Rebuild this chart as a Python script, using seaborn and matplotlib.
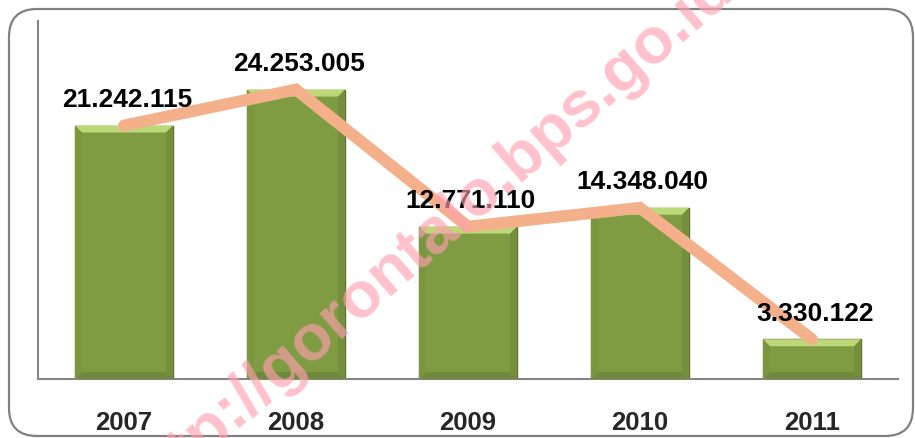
import matplotlib
matplotlib.use("Agg")
import matplotlib.pyplot as plt
import seaborn as sns
import numpy as np
from matplotlib.patches import FancyBboxPatch, Polygon
from matplotlib.transforms import IdentityTransform

years = ["2007", "2008", "2009", "2010", "2011"]
values = [21242115, 24253005, 12771110, 14348040, 3330122]
value_labels = ["21.242.115", "24.253.005", "12.771.110", "14.348.040", "3.330.122"]
watermark = "http://gorontalo.bps.go.id"

sns.set_theme(style="white")
plt.rcParams["font.family"] = ["Liberation Sans", "DejaVu Sans"]

W, H = 915, 439
fig = plt.figure(figsize=(W / 100, H / 100), dpi=100)
ax = fig.add_axes([38 / W, 1 - 380 / H, (898 - 38) / W, (380 - 22) / H])

bar_color = "#7f9c42"
sns.barplot(x=years, y=values, color=bar_color, saturation=1, width=0.57,
            edgecolor="#5c7330", linewidth=1.0, ax=ax, zorder=2)

# bevel highlights derived from the bar patches
ymax = 30e6
ax.set_ylim(0, ymax)
ax.set_xlim(-0.5, 4.5)
dx = 0.04
dy = ymax * 7 / 358
for p in ax.patches:
    x0, w, h = p.get_x(), p.get_width(), p.get_height()
    x1 = x0 + w
    top = Polygon([(x0, h), (x1, h), (x1 - dx, h - dy), (x0 + dx, h - dy)],
                  closed=True, facecolor="#bcd878", edgecolor="none", zorder=3)
    bot = Polygon([(x0, 0), (x1, 0), (x1 - dx, dy), (x0 + dx, dy)],
                  closed=True, facecolor="#70893a", edgecolor="none", zorder=3)
    lft = Polygon([(x0, 0), (x0 + dx, dy), (x0 + dx, h - dy), (x0, h)],
                  closed=True, facecolor="#7a9740", edgecolor="none", zorder=3)
    rgt = Polygon([(x1, 0), (x1 - dx, dy), (x1 - dx, h - dy), (x1, h)],
                  closed=True, facecolor="#74903c", edgecolor="none", zorder=3)
    for poly in (top, bot, lft, rgt):
        ax.add_patch(poly)

# watermark (over bars, under line and labels)
fig.text(428 / W, 1 - 238 / H, watermark, rotation=41, fontsize=47,
         fontweight="bold", color="#ff9fb0", alpha=0.65,
         ha="center", va="center", rotation_mode="anchor", zorder=4)

sns.lineplot(x=np.arange(len(values)), y=values, color="#f4b08a", linewidth=8.5,
             solid_capstyle="round", solid_joinstyle="miter", ax=ax, zorder=5)

for i, (v, lab) in enumerate(zip(values, value_labels)):
    ax.annotate(lab, xy=(i, v), xytext=(2, 14), textcoords="offset points",
                ha="center", va="baseline", fontsize=19, fontweight="bold",
                color="black", zorder=6)

for side in ("top", "right"):
    ax.spines[side].set_visible(False)
for side in ("left", "bottom"):
    ax.spines[side].set_color("#868686")
    ax.spines[side].set_linewidth(1.5)
ax.set_yticks([])
ax.set_xlabel("")
ax.set_ylabel("")
ax.tick_params(axis="x", length=0, pad=22, labelsize=18.5)
for t in ax.get_xticklabels():
    t.set_fontweight("bold")
ax.set_facecolor("white")
ax.patch.set_alpha(0)
ax.set_zorder(1)

border = FancyBboxPatch((9, 2), 904, 427, boxstyle="round,pad=0,rounding_size=28",
                        transform=IdentityTransform(), facecolor="none",
                        edgecolor="#808080", linewidth=1.6, zorder=0)
fig.patches.append(border)

fig.savefig("out.png", dpi=100, facecolor="white")
